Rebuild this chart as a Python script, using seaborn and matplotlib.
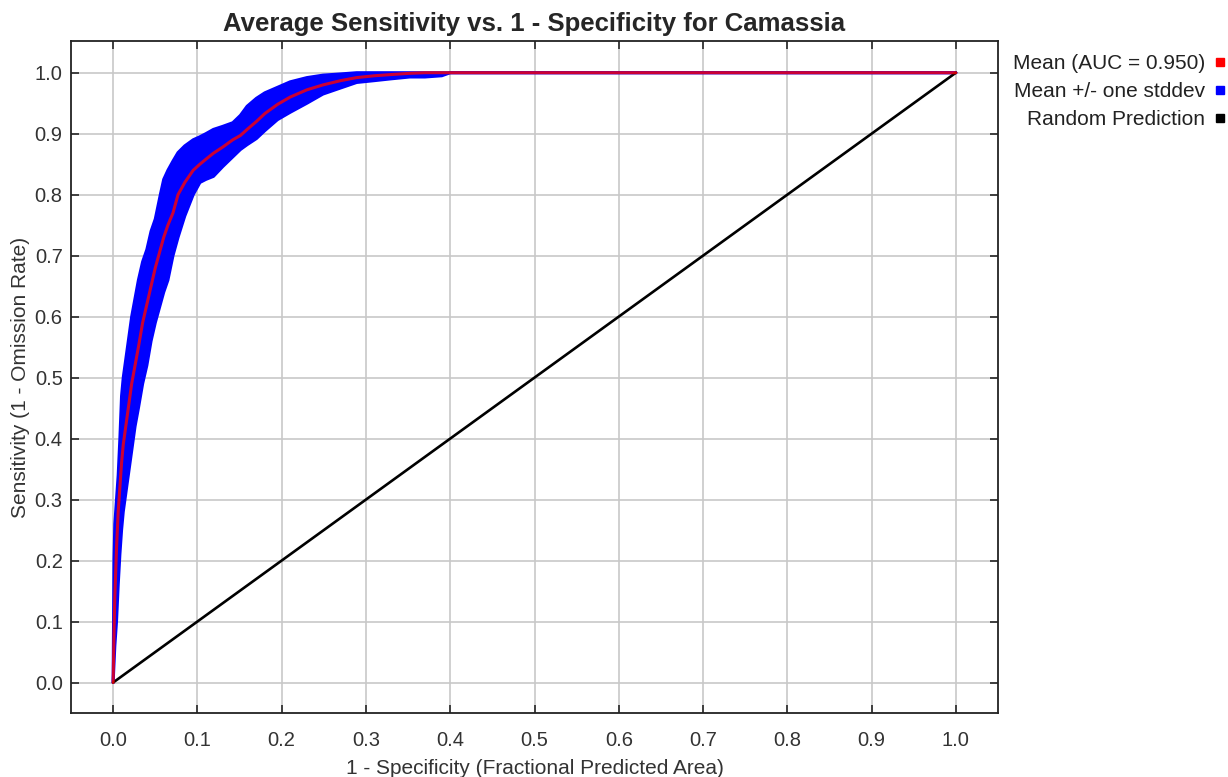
import numpy as np
import pandas as pd
import matplotlib
matplotlib.use("Agg")
import matplotlib.pyplot as plt
from matplotlib.lines import Line2D
import seaborn as sns

# ---- data ----
fpr = [0.000, 0.001, 0.002, 0.004, 0.006, 0.008, 0.010, 0.012, 0.015, 0.018,
       0.022, 0.026, 0.030, 0.035, 0.040, 0.045, 0.050, 0.056, 0.060, 0.065,
       0.071, 0.077, 0.085, 0.095, 0.103, 0.110, 0.119, 0.130, 0.142, 0.151,
       0.159, 0.170, 0.180, 0.195, 0.210, 0.230, 0.249, 0.270, 0.289, 0.310,
       0.330, 0.352, 0.370, 0.390, 0.400, 1.000]
mean_sens = [0.00, 0.08, 0.14, 0.22, 0.28, 0.32, 0.36, 0.39, 0.42, 0.45,
             0.49, 0.52, 0.55, 0.59, 0.62, 0.65, 0.68, 0.71, 0.73, 0.75,
             0.77, 0.80, 0.82, 0.84, 0.85, 0.858, 0.868, 0.878, 0.89, 0.897,
             0.907, 0.92, 0.933, 0.948, 0.96, 0.972, 0.98, 0.987, 0.992, 0.995,
             0.997, 0.999, 1.0, 1.0, 1.0, 1.0]
lower_sens = [0.00, 0.03, 0.06, 0.10, 0.16, 0.21, 0.25, 0.28, 0.31, 0.34,
              0.38, 0.42, 0.45, 0.49, 0.52, 0.56, 0.59, 0.62, 0.64, 0.66,
              0.70, 0.73, 0.765, 0.80, 0.82, 0.825, 0.83, 0.846, 0.862, 0.874,
              0.882, 0.892, 0.905, 0.923, 0.935, 0.95, 0.965, 0.975, 0.984, 0.987,
              0.99, 0.993, 0.993, 0.995, 1.0, 1.0]
upper_sens = [0.00, 0.20, 0.26, 0.30, 0.34, 0.40, 0.47, 0.50, 0.53, 0.56,
              0.60, 0.63, 0.66, 0.69, 0.71, 0.74, 0.76, 0.80, 0.825, 0.84,
              0.855, 0.869, 0.88, 0.89, 0.895, 0.90, 0.907, 0.912, 0.918, 0.93,
              0.945, 0.958, 0.967, 0.976, 0.985, 0.992, 0.996, 0.998, 1.0, 1.0,
              1.0, 1.0, 1.0, 1.0, 1.0, 1.0]
random_x = [0.0, 1.0]
random_y = [0.0, 1.0]
x_ticks = [0.0, 0.1, 0.2, 0.3, 0.4, 0.5, 0.6, 0.7, 0.8, 0.9, 1.0]
y_ticks = [0.0, 0.1, 0.2, 0.3, 0.4, 0.5, 0.6, 0.7, 0.8, 0.9, 1.0]
legend_labels = ["Mean (AUC = 0.950)", "Mean +/- one stddev", "Random Prediction"]
title = "Average Sensitivity vs. 1 - Specificity for Camassia"
xlabel = "1 - Specificity (Fractional Predicted Area)"
ylabel = "Sensitivity (1 - Omission Rate)"

df = pd.DataFrame({"fpr": fpr, "mean": mean_sens,
                   "lower": lower_sens, "upper": upper_sens})
rand_df = pd.DataFrame({"x": random_x, "y": random_y})

# ---- style ----
sns.set_theme(style="whitegrid")
plt.rcParams["font.family"] = ["Liberation Sans", "DejaVu Sans"]
plt.rcParams["axes.edgecolor"] = "black"

fig = plt.figure(figsize=(12.28, 7.77), dpi=100)
ax = fig.add_axes([71 / 1228, 64 / 777, 927 / 1228, 672 / 777])

blue = "#0000ff"
ax.fill_between(df["fpr"], df["lower"], df["upper"], color=blue, lw=0, zorder=2)
sns.lineplot(data=df, x="fpr", y="upper", ax=ax, color=blue, lw=2.2,
             sort=False, estimator=None, zorder=2)
sns.lineplot(data=df, x="fpr", y="lower", ax=ax, color=blue, lw=2.2,
             sort=False, estimator=None, zorder=2)
sns.lineplot(data=rand_df, x="x", y="y", ax=ax, color="black", lw=1.9,
             sort=False, estimator=None, zorder=3)
sns.lineplot(data=df, x="fpr", y="mean", ax=ax, color="#ff0000", lw=2.2,
             alpha=0.8, sort=False, estimator=None, zorder=4)

ax.set_xlim(-0.05, 1.05)
ax.set_ylim(-0.05, 1.052)
ax.set_xticks(x_ticks)
ax.set_yticks(y_ticks)
ax.set_xticklabels([f"{v:.1f}" for v in x_ticks])
ax.set_yticklabels([f"{v:.1f}" for v in y_ticks])
ax.tick_params(axis="both", which="both", direction="in", length=6, width=1.3,
               color="#333333", labelsize=14.5, labelcolor="#333333",
               top=True, right=True, bottom=True, left=True)
ax.tick_params(axis="x", pad=13)
ax.tick_params(axis="y", pad=6)
ax.grid(True, color="#c8c8c8", lw=1.2)
for s in ax.spines.values():
    s.set_visible(True)
    s.set_color("#222222")
    s.set_linewidth(1.3)

ax.set_xlabel(xlabel, fontsize=15, color="#333333", labelpad=6.5)
ax.set_ylabel(ylabel, fontsize=15, color="#333333", labelpad=3)
ax.set_title(title, fontsize=18.5, fontweight="bold", pad=7)

handles = [Line2D([], [], ls="none", marker="s", ms=5.5, color="#ff0000"),
           Line2D([], [], ls="none", marker="s", ms=5.5, color=blue),
           Line2D([], [], ls="none", marker="s", ms=5.5, color="black")]
fig.legend(handles, legend_labels, loc="upper right",
           bbox_to_anchor=(1.0, 0.930), frameon=False, markerfirst=False,
           fontsize=15, handlelength=0.8, handletextpad=0.3,
           labelspacing=0.42, borderaxespad=0.0, borderpad=0.0,
           labelcolor="#222222")

fig.savefig("out.png", dpi=100, facecolor="white")
